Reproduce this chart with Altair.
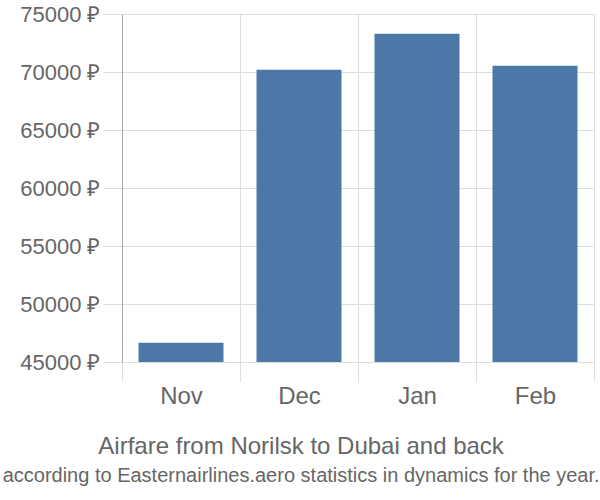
import altair as alt
import pandas as pd

months = ["Nov", "Dec", "Jan", "Feb"]
prices = [46660, 70190, 73300, 70540]
tick_values = [45000, 50000, 55000, 60000, 65000, 70000, 75000]

df = pd.DataFrame({"month": months, "price": prices})

bars = alt.Chart(df).mark_bar(
    color="#4c78a8", width=alt.RelativeBandSize(0.72)
).encode(
    x=alt.X(
        "month:N",
        sort=months,
        scale=alt.Scale(paddingInner=0, paddingOuter=0),
        axis=alt.Axis(
            title=None,
            grid=True,
            gridColor="#dddddd",
            tickBand="extent",
            ticks=True,
            tickSize=19,
            tickColor="#dddddd",
            domain=False,
            labelAngle=0,
            labelFont="Liberation Sans",
            labelFontSize=24,
            labelColor="#666666",
            labelPadding=3,
        ),
    ),
    y=alt.Y(
        "price:Q",
        scale=alt.Scale(domain=[45000, 75000], nice=False, zero=False),
        axis=alt.Axis(
            title=None,
            values=tick_values,
            labelExpr="datum.value + ' ₽'",
            grid=True,
            gridColor="#dddddd",
            tickSize=19,
            tickColor="#dddddd",
            domain=True,
            domainColor="#aaaaaa",
            labelFont="Liberation Sans",
            labelFontSize=22,
            labelColor="#666666",
            labelPadding=3,
        ),
    ),
    y2=alt.datum(45000),
)

chart = bars.properties(
    width=472,
    height=348,
    autosize=alt.AutoSizeParams(type="none"),
    padding={"left": 122, "top": 14, "right": 6, "bottom": 138},
    title=alt.TitleParams(
        text="Airfare from Norilsk to Dubai and back",
        subtitle="according to Easternairlines.aero statistics in dynamics for the year.",
        orient="bottom",
        anchor="middle",
        frame="bounds",
        dx=-6,
        font="Liberation Sans",
        fontSize=24,
        fontWeight="normal",
        color="#666666",
        subtitleFont="Liberation Sans",
        subtitleFontSize=20,
        subtitleColor="#666666",
        subtitlePadding=7,
        offset=27,
    ),
).configure_view(stroke=None)

chart.save("out.html", embed_options={"renderer": "svg", "actions": False})
